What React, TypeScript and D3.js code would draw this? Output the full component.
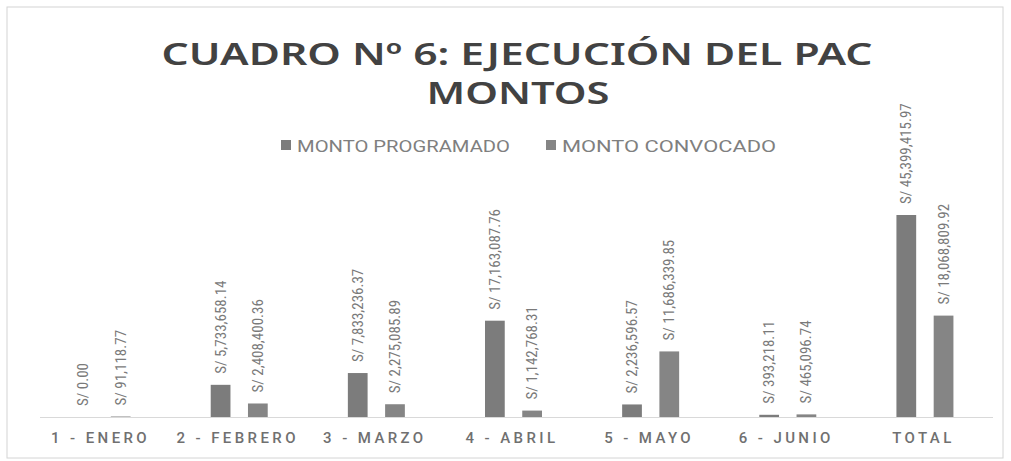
import React from "react";
import * as d3 from "d3";

const categories = ["1 - ENERO", "2 - FEBRERO", "3 - MARZO", "4 - ABRIL", "5 - MAYO", "6 - JUNIO", "TOTAL"];
const programado = [0.0, 5733658.14, 7833236.37, 17163087.76, 2236596.57, 393218.11, 45399415.97];
const convocado = [91118.77, 2408400.36, 2275085.89, 1142768.31, 11686339.85, 465096.74, 18068809.92];
const seriesNames = ["MONTO PROGRAMADO", "MONTO CONVOCADO"];
const titleLines = ["CUADRO Nº 6: EJECUCIÓN DEL PAC", "MONTOS"];
const axisMax = 36000000;

const W = 1011;
const H = 461;
const colors = ["#7c7c7c", "#858585"];

const fmt = (v: number) => "S/ " + d3.format(",.2f")(v);

export default function App() {
  const x0 = d3.scaleBand<string>().domain(categories).range([34, 994]).paddingInner(0).paddingOuter(0);
  const x1 = d3.scaleBand<string>().domain(seriesNames).range([x0.bandwidth() / 2 - 29, x0.bandwidth() / 2 + 28]).paddingInner(0.47).paddingOuter(0);
  const y = d3.scaleLinear().domain([0, axisMax]).range([417, 215]).clamp(true);
  const series = [programado, convocado];
  const font = "Roboto, 'Open Sans', sans-serif";
  const condensed = "'Roboto Condensed', 'Liberation Sans Narrow', 'DejaVu Sans Condensed', Roboto, sans-serif";
  const titleFont = "'Noto Sans', 'Open Sans', sans-serif";

  return (
    <svg width={W} height={H} style={{ position: "absolute", left: 0, top: 0, background: "#fff" }}>
      <rect x={7} y={7} width={996} height={451} fill="#fff" stroke="#d4d4d4" strokeWidth={1} />
      <text x={517} y={65} textAnchor="middle" fontFamily={titleFont} fontWeight={600} fontSize={31} fill="#424242" textLength={711} lengthAdjust="spacingAndGlyphs">
        {titleLines[0]}
      </text>
      <text x={518} y={104} textAnchor="middle" fontFamily={titleFont} fontWeight={600} fontSize={31} fill="#424242" textLength={183} lengthAdjust="spacingAndGlyphs">
        {titleLines[1]}
      </text>
      {seriesNames.map((s, i) => {
        const lx = [281, 546][i];
        const tw = [213, 214][i];
        return (
          <g key={s}>
            <rect x={lx} y={140} width={10} height={10} fill={colors[i]} />
            <text x={lx + 16} y={152} fontFamily={font} fontSize={16} fill="#7f7f7f" textLength={tw} lengthAdjust="spacingAndGlyphs">
              {s}
            </text>
          </g>
        );
      })}
      <line x1={40} x2={993} y1={y(0) + 0.5} y2={y(0) + 0.5} stroke="#d9d9d9" strokeWidth={1} />
      {categories.map((c, ci) => (
        <g key={c} transform={`translate(${x0(c)},0)`}>
          {series.map((vals, si) => {
            const bx = x1(seriesNames[si])!;
            const bw = x1.bandwidth();
            const top = y(vals[ci]);
            const cx = bx + bw / 2;
            return (
              <g key={si}>
                <rect x={bx} y={top} width={bw} height={y(0) - top} fill={colors[si]} />
                <text
                  transform={`translate(${cx},${top - 11}) rotate(-90)`}
                  dominantBaseline="central"
                  fontFamily={condensed}
                  fontSize={15}
                  fill="#7a7a7a"
                >
                  {fmt(vals[ci])}
                </text>
              </g>
            );
          })}
          <text x={x0.bandwidth() / 2 - 2} y={443} textAnchor="middle" fontFamily={font} fontSize={15} fontWeight={500} fill="#707070" letterSpacing={3.4}>
            {c}
          </text>
        </g>
      ))}
    </svg>
  );
}
